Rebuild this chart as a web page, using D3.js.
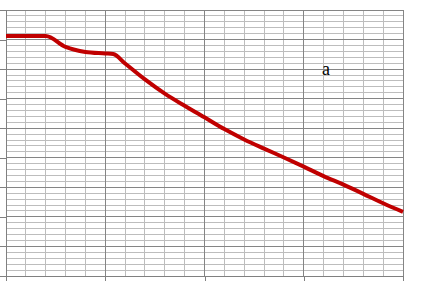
<!DOCTYPE html>
<html>
<head>
<meta charset="utf-8">
<script src="https://cdn.jsdelivr.net/npm/d3@7"></script>
<style>
  body { margin: 0; background: #fff; }
  svg { display: block; }
</style>
</head>
<body>
<svg id="chart"></svg>
<script>
let width = 429, height = 283;

// data
let xVals = [0, 2, 3, 4, 5, 5.4, 6, 7, 8, 9, 10, 11, 12, 13, 14, 15, 16, 17, 18, 19, 20];
let yVals = [8.12, 8.12, 7.75, 7.58, 7.53, 7.51, 7.19, 6.65, 6.17, 5.76, 5.37, 4.97, 4.62, 4.31, 4.01, 3.70, 3.38, 3.09, 2.78, 2.46, 2.17];
let xMajor = [0, 5, 10, 15, 20];
let yMajor = [0, 1, 2, 3, 4, 5, 6, 7, 8, 9];
let label = "a";

let margin = {top: 10, right: 26, bottom: 7, left: 6};

let svg = d3.select("#chart")
  .attr("width", width)
  .attr("height", height);

let x = d3.scaleLinear().domain([0, 20]).range([margin.left, width - margin.right]);
let y = d3.scaleLinear().domain([0, 9]).range([height - margin.bottom, margin.top]);

let grid = svg.append("g").attr("shape-rendering", "crispEdges");

// minor grid
grid.selectAll(".vminor")
  .data(d3.range(0, 20.01, 1).filter(v => xMajor.indexOf(v) < 0))
  .join("line")
  .attr("x1", d => x(d)).attr("x2", d => x(d))
  .attr("y1", y(0)).attr("y2", y(9))
  .attr("stroke", "#bdbdbd");

grid.selectAll(".hminor")
  .data(d3.range(0, 9.01, 0.2).filter(v => Math.abs(v - Math.round(v)) > 0.01))
  .join("line")
  .attr("x1", x(0)).attr("x2", x(20))
  .attr("y1", d => y(d)).attr("y2", d => y(d))
  .attr("stroke", "#bdbdbd");

// major grid
grid.selectAll(".vmajor")
  .data(xMajor)
  .join("line")
  .attr("x1", d => x(d)).attr("x2", d => x(d))
  .attr("y1", y(0)).attr("y2", y(9))
  .attr("stroke", "#858585");

grid.selectAll(".hmajor")
  .data(yMajor)
  .join("line")
  .attr("x1", x(0)).attr("x2", x(20))
  .attr("y1", d => y(d)).attr("y2", d => y(d))
  .attr("stroke", "#858585");

// axes, ticks only
let xAxis = d3.axisBottom(x).tickValues(xMajor).tickSize(5).tickFormat("");
let yAxis = d3.axisLeft(y).tickValues(yMajor).tickSize(6).tickFormat("");

let gx = svg.append("g")
  .attr("transform", `translate(0,${y(0)})`)
  .call(xAxis);
let gy = svg.append("g")
  .attr("transform", `translate(${x(0)},0)`)
  .call(yAxis);

[gx, gy].forEach(g => {
  g.selectAll("path, line").attr("stroke", "#808080").attr("shape-rendering", "crispEdges");
});

// the series
let line = d3.line()
  .x((d, i) => x(xVals[i]))
  .y(d => y(d))
  .curve(d3.curveMonotoneX);

svg.append("path")
  .datum(yVals)
  .attr("d", line)
  .attr("fill", "none")
  .attr("stroke", "#c00000")
  .attr("stroke-width", 4)
  .attr("stroke-linejoin", "round");

svg.append("text")
  .attr("x", 326)
  .attr("y", 75)
  .attr("text-anchor", "middle")
  .attr("font-family", "'Liberation Serif', 'DejaVu Serif', serif")
  .attr("font-size", 18)
  .text(label);
</script>
</body>
</html>
